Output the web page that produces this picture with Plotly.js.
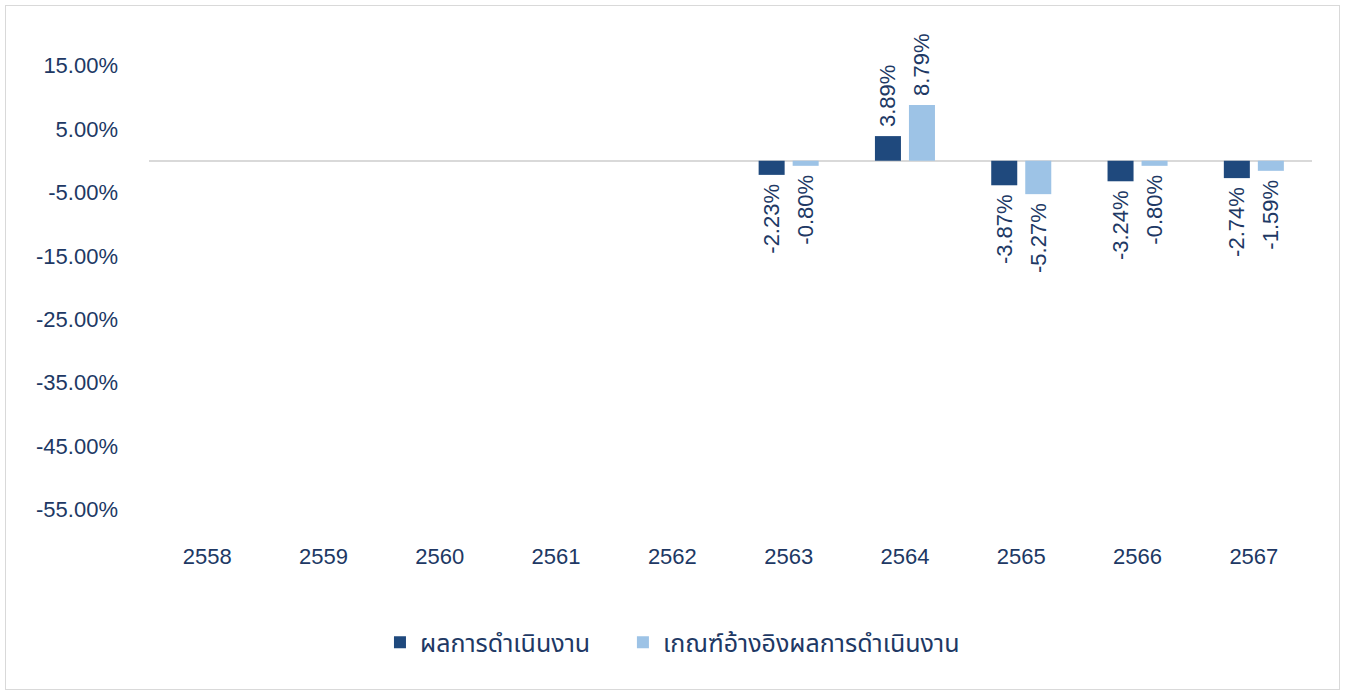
<!DOCTYPE html>
<html><head><meta charset="utf-8">
<script src="https://cdn.plot.ly/plotly-3.0.1.min.js"></script>
<style>
html,body{margin:0;padding:0;background:#fff;}
#wrap{position:absolute;left:5px;top:5px;width:1333px;height:683px;border:1.5px solid #D9D9D9;}
#chart{position:absolute;left:0;top:0;width:1347px;height:693px;}
</style></head>
<body>
<div id="wrap"></div>
<div id="chart"></div>
<script>
const years = ['2558','2559','2560','2561','2562','2563','2564','2565','2566','2567'];
const performance = [null,null,null,null,null,-0.0223,0.0389,-0.0387,-0.0324,-0.0274];
const benchmark = [null,null,null,null,null,-0.0080,0.0879,-0.0527,-0.0080,-0.0159];
const yTicks = [0.15,0.05,-0.05,-0.15,-0.25,-0.35,-0.45,-0.55];
const yTickText = ['15.00%','5.00%','-5.00%','-15.00%','-25.00%','-35.00%','-45.00%','-55.00%'];
const names = ['ผลการดำเนินงาน','เกณฑ์อ้างอิงผลการดำเนินงาน'];

const navy = '#203864';
const fam = 'Arial, "Liberation Sans", "Noto Sans Thai", sans-serif';
const font = {family:fam, size:22, color:navy};
function lbl(arr){return arr.map(v=> v===null ? '' : (v>=0 ? '\u00A0'+(v*100).toFixed(2)+'%' : (v*100).toFixed(2)+'%\u00A0'));}

const traces = [
 {type:'bar', x:years, y:performance, name:names[0], marker:{color:'#1F497D'}, legend:'legend',
  text:lbl(performance), textposition:'outside', textangle:-90, cliponaxis:false,
  constraintext:'none', textfont:font, hoverinfo:'none'},
 {type:'bar', x:years, y:benchmark, name:names[1], marker:{color:'#9DC3E6'}, legend:'legend2',
  text:lbl(benchmark), textposition:'outside', textangle:-90, cliponaxis:false,
  constraintext:'none', textfont:font, hoverinfo:'none'}
];
const legFont = {family:fam, size:25, color:navy};
const layout = {
 width:1347, height:693,
 margin:{l:149, r:35, t:34, b:152},
 paper_bgcolor:'rgba(0,0,0,0)', plot_bgcolor:'rgba(0,0,0,0)',
 font:font,
 barmode:'group', bargap:0.415, bargroupgap:0.235,
 showlegend:true,
 legend:{orientation:'h', x:0.1986, xanchor:'left', y:-0.2, yanchor:'middle', font:legFont, itemwidth:30},
 legend2:{orientation:'h', x:0.4075, xanchor:'left', y:-0.2, yanchor:'middle', font:legFont, itemwidth:30},
 xaxis:{type:'category', showgrid:false, zeroline:false, showline:false, ticks:'', tickfont:font},
 yaxis:{range:[-0.6,0.2], tickvals:yTicks, ticktext:yTickText, showgrid:false,
   zeroline:true, zerolinecolor:'#D9D9D9', zerolinewidth:2, showline:false, ticks:'', tickfont:font, ticklabelstandoff:30}
};
Plotly.newPlot('chart', traces, layout, {displayModeBar:false, staticPlot:true});
</script>
</body></html>
